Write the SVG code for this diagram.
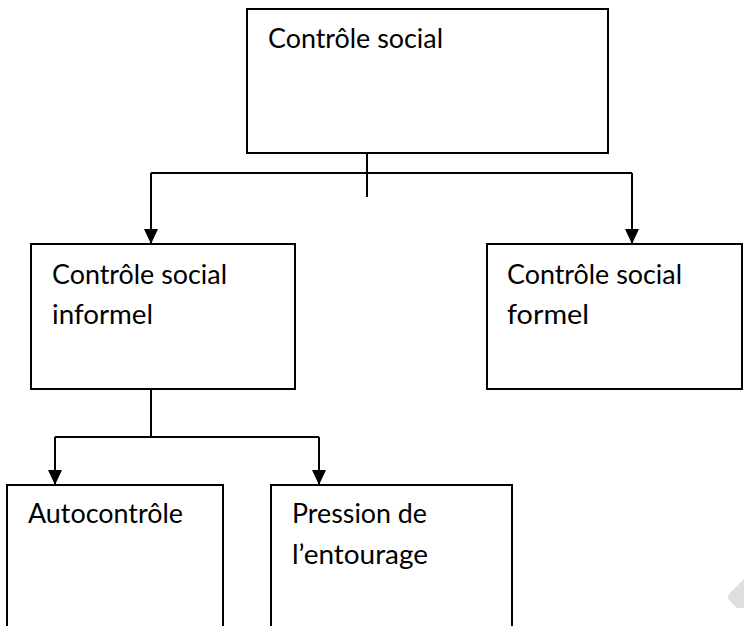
<svg xmlns="http://www.w3.org/2000/svg" width="744" height="626" viewBox="0 0 744 626">
<defs>
<marker id="arr" markerUnits="userSpaceOnUse" markerWidth="16" markerHeight="16" viewBox="0 0 16 16" refX="15" refY="8" orient="auto">
<path d="M0,1 L15,8 L0,15 Z" fill="#000"/>
</marker>
<style>
.box{fill:#fff;stroke:#000;stroke-width:2}
.ln{fill:none;stroke:#000;stroke-width:2}
.t{font-family:Lato,"Liberation Sans",Arial,sans-serif;font-size:26px;fill:#000}
</style>
</defs>
<rect width="744" height="626" fill="#fff"/>
<g id="connectors">
<line class="ln" x1="367" y1="149" x2="367" y2="197"/>
<polyline class="ln" points="151,173 632,173"/>
<line class="ln" x1="151" y1="173" x2="151" y2="244" marker-end="url(#arr)"/>
<line class="ln" x1="632" y1="173" x2="632" y2="244" marker-end="url(#arr)"/>
<line class="ln" x1="151" y1="389" x2="151" y2="437"/>
<line class="ln" x1="55" y1="437" x2="319" y2="437"/>
<line class="ln" x1="55" y1="437" x2="55" y2="485" marker-end="url(#arr)"/>
<line class="ln" x1="319" y1="437" x2="319" y2="485" marker-end="url(#arr)"/>
</g>
<g id="n-controle-social">
<rect class="box" x="247" y="9" width="361" height="144"/>
<text class="t" x="268" y="48" textLength="175" lengthAdjust="spacingAndGlyphs">Contrôle social</text>
</g>
<g id="n-informel">
<rect class="box" x="31" y="244" width="264" height="145"/>
<text class="t" x="52" y="284" textLength="175" lengthAdjust="spacingAndGlyphs">Contrôle social</text>
<text class="t" x="52" y="324" textLength="101" lengthAdjust="spacingAndGlyphs">informel</text>
</g>
<g id="n-formel">
<rect class="box" x="487" y="244" width="255" height="145"/>
<text class="t" x="507" y="284" textLength="175" lengthAdjust="spacingAndGlyphs">Contrôle social</text>
<text class="t" x="507" y="324" textLength="82" lengthAdjust="spacingAndGlyphs">formel</text>
</g>
<g id="n-autocontrole">
<rect class="box" x="7" y="485" width="216" height="160"/>
<text class="t" x="28" y="523" textLength="155" lengthAdjust="spacingAndGlyphs">Autocontrôle</text>
</g>
<g id="n-pression">
<rect class="box" x="271" y="485" width="241" height="160"/>
<text class="t" x="292" y="523" textLength="135" lengthAdjust="spacingAndGlyphs">Pression de</text>
<text class="t" x="292" y="564" textLength="136" lengthAdjust="spacingAndGlyphs">l’entourage</text>
</g>
<path d="M744,579 L730,593 Q726,597 730,601 L737,608 L744,608 Z" fill="#dedede"/>
</svg>
